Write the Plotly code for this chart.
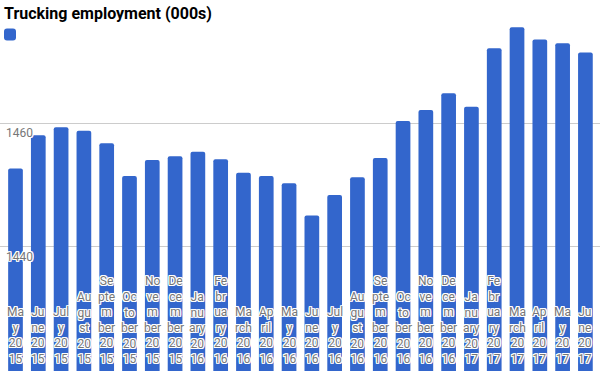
import plotly.graph_objects as go

categories = [
    "May 2015", "June 2015", "July 2015", "August 2015", "September 2015",
    "October 2015", "November 2015", "December 2015", "January 2016",
    "February 2016", "March 2016", "April 2016", "May 2016", "June 2016",
    "July 2016", "August 2016", "September 2016", "October 2016",
    "November 2016", "December 2016", "January 2017", "February 2017",
    "March 2017", "April 2017", "May 2017", "June 2017",
]
values = [
    1452.7, 1458.1, 1459.4, 1458.8, 1456.8, 1451.5, 1454.1, 1454.7, 1455.4,
    1454.2, 1452.0, 1451.5, 1450.3, 1445.1, 1448.4, 1451.3, 1454.4, 1460.4,
    1462.2, 1464.9, 1462.7, 1472.2, 1475.6, 1473.6, 1473.0, 1471.5,
]
tick_labels = [
    "Ma<br>y<br>20<br>15", "Ju<br>ne<br>20<br>15", "Jul<br>y<br>20<br>15",
    "Au<br>gu<br>st<br>20<br>15", "Se<br>pte<br>m<br>ber<br>20<br>15",
    "Oc<br>to<br>ber<br>20<br>15", "No<br>ve<br>m<br>ber<br>20<br>15",
    "De<br>ce<br>m<br>ber<br>20<br>15", "Ja<br>nu<br>ary<br>20<br>16",
    "Fe<br>br<br>ua<br>ry<br>20<br>16", "Ma<br>rch<br>20<br>16",
    "Ap<br>ril<br>20<br>16", "Ma<br>y<br>20<br>16", "Ju<br>ne<br>20<br>16",
    "Jul<br>y<br>20<br>16", "Au<br>gu<br>st<br>20<br>16",
    "Se<br>pte<br>m<br>ber<br>20<br>16", "Oc<br>to<br>ber<br>20<br>16",
    "No<br>ve<br>m<br>ber<br>20<br>16", "De<br>ce<br>m<br>ber<br>20<br>16",
    "Ja<br>nu<br>ary<br>20<br>17", "Fe<br>br<br>ua<br>ry<br>20<br>17",
    "Ma<br>rch<br>20<br>17", "Ap<br>ril<br>20<br>17", "Ma<br>y<br>20<br>17",
    "Ju<br>ne<br>20<br>17",
]
y_ticks = [1420, 1440, 1460, 1480]
y_label_values = [1440, 1460]
y_label_text = ["1440", "1460"]

title_text = "Trucking employment (000s)"

halo = ("1px 0 0 #fff, -1px 0 0 #fff, 0 1px 0 #fff, 0 -1px 0 #fff, "
        "1px 1px 0 #fff, -1px -1px 0 #fff, 1px -1px 0 #fff, -1px 1px 0 #fff")
label_font = dict(family="Roboto", size=12, color="#777777", shadow=halo)

fig = go.Figure()
fig.add_trace(go.Bar(
    x=list(range(len(categories))),
    y=values,
    name="",
    marker=dict(color="#3366CC", line=dict(width=0)),
    showlegend=True,
    hovertext=categories,
))

annotations = []
# title
annotations.append(dict(
    text="<b>" + title_text + "</b>",
    xref="paper", yref="paper", x=0, y=1,
    xanchor="left", yanchor="top", xshift=2, yshift=-2,
    showarrow=False,
    font=dict(family="Roboto", size=16, color="#000000"),
))
# y-axis labels (inside, below gridline)
for v, t in zip(y_label_values, y_label_text):
    annotations.append(dict(
        text=t, xref="paper", yref="y", x=0, y=v,
        xanchor="left", yanchor="top", xshift=4, yshift=-1,
        showarrow=False, font=label_font,
    ))
# x-axis category labels (inside, bottom)
for i, t in enumerate(tick_labels):
    annotations.append(dict(
        text=t, xref="x", yref="paper", x=i, y=0,
        xanchor="center", yanchor="bottom", yshift=3,
        showarrow=False, font=label_font,
    ))

fig.update_layout(
    width=600, height=371,
    margin=dict(l=0, r=0, t=0, b=0),
    paper_bgcolor="white",
    plot_bgcolor="white",
    font=dict(family="Roboto", size=12, color="#777777"),
    bargap=0.355,
    barcornerradius=2,
    showlegend=True,
    legend=dict(
        x=0, y=0.946, xanchor="left", yanchor="top",
        bgcolor="rgba(0,0,0,0)", font=dict(size=12),
        itemwidth=30, indentation=-10,
    ),
    annotations=annotations,
    xaxis=dict(
        range=[-0.68, 25.64],
        showticklabels=False,
        ticks="",
        showgrid=False,
        zeroline=False,
        showline=False,
    ),
    yaxis=dict(
        range=[1419.9, 1480],
        tickmode="array",
        tickvals=y_ticks,
        showticklabels=False,
        ticks="",
        showgrid=True,
        gridcolor="#cccccc",
        gridwidth=1,
        zeroline=False,
        showline=False,
    ),
)

fig.write_html(
    "out.html",
    config={"displayModeBar": False},
    post_script="document.body.style.margin='0';",
)
